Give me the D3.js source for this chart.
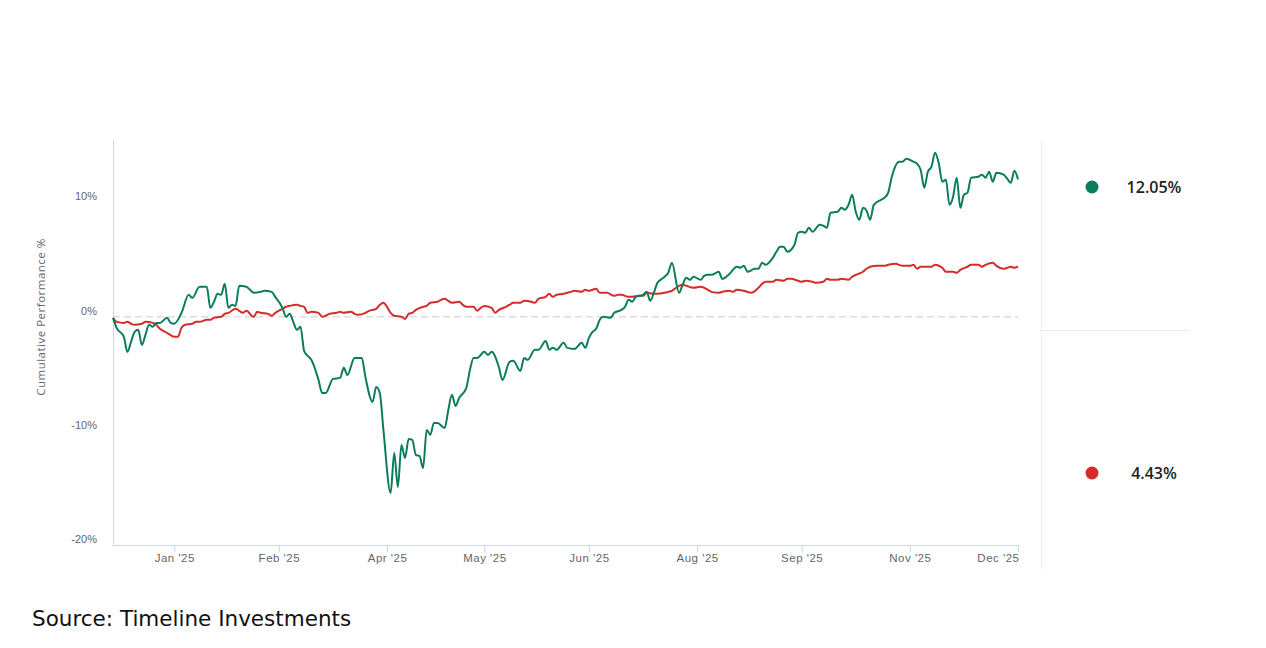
<!DOCTYPE html>
<html>
<head>
<meta charset="utf-8">
<script src="https://cdn.jsdelivr.net/npm/d3@7"></script>
<style>
    body { margin: 0; background: #fff; }
    svg { font-family: "Open Sans", "Noto Sans", sans-serif; }
</style>
</head>
<body>
<div id="chart"></div>
<script>
// [trading day, cumulative %]
var fund = [[0,-0.09],[1,-0.96],[3,-1.75],[4,-3.07],[5,-2.19],[6,-1.32],[7,-1.14],[8,-2.46],[9,-1.58],
    [10,-0.70],[11,-0.88],[12,-0.53],[13,-0.53],[15,-0.09],[16,-0.53],[17,-0.61],[19,0.35],[21,1.93],
    [22,1.67],[24,2.63],[26,2.63],[27,0.79],[28,1.32],[29,2.02],[30,1.93],[31,2.89],[32,0.79],[33,1.05],
    [34,0.96],[35,2.72],[37,2.63],[38,2.37],[39,2.11],[41,2.19],[42,2.28],[44,2.19],[45,1.75],[47,0.79],
    [48,0.00],[49,0.26],[50,-0.44],[51,-1.14],[52,-0.88],[53,-2.98],[54,-3.42],[55,-3.77],[57,-5.53],
    [58,-6.67],[59,-6.67],[61,-5.44],[63,-5.35],[64,-4.47],[65,-5.09],[67,-3.60],[69,-3.60],[70,-5.26],
    [72,-7.46],[73,-6.14],[74,-6.67],[75,-9.91],[77,-15.44],[78,-11.93],[79,-14.91],[80,-11.23],
    [81,-12.37],[82,-10.70],[83,-10.79],[84,-12.11],[85,-12.19],[86,-13.25],[87,-9.91],[88,-10.35],
    [89,-9.30],[90,-9.30],[92,-9.74],[93,-8.16],[94,-6.84],[95,-7.81],[96,-7.11],[98,-6.23],[99,-4.65],
    [100,-3.60],[101,-3.60],[103,-3.07],[104,-3.33],[105,-3.07],[107,-4.39],[108,-5.53],[110,-3.95],
    [111,-3.86],[113,-4.74],[114,-3.60],[115,-3.77],[117,-2.89],[118,-2.89],[120,-2.11],[121,-2.89],
    [122,-2.72],[123,-2.89],[125,-2.28],[126,-2.72],[128,-2.81],[130,-2.28],[131,-2.72],[132,-1.84],
    [133,-1.32],[134,-1.05],[135,-0.26],[136,0.00],[138,-0.09],[139,0.35],[141,0.61],[142,0.88],
    [143,1.49],[144,1.32],[145,1.75],[147,1.93],[148,2.19],[149,1.40],[150,2.11],[151,2.98],[153,3.51],
    [154,3.86],[155,4.74],[157,2.11],[158,2.81],[159,3.42],[160,3.25],[161,3.51],[163,3.25],[164,3.60],
    [165,3.68],[166,3.68],[168,3.95],[169,3.33],[171,3.77],[173,4.39],[174,4.30],[175,4.47],[176,3.95],
    [178,4.21],[179,4.21],[180,4.74],[181,4.56],[183,5.18],[184,5.70],[185,6.14],[186,6.14],[187,5.70],
    [189,6.32],[190,7.37],[191,7.46],[192,7.37],[193,7.81],[194,7.46],[196,8.07],[197,7.98],[198,7.81],
    [199,9.12],[201,9.21],[202,9.56],[203,9.39],[204,9.82],[205,10.70],[206,9.21],[207,8.51],[208,9.56],
    [209,9.30],[210,8.51],[211,9.82],[213,10.26],[214,10.44],[215,10.88],[216,12.28],[218,13.60],
    [219,13.60],[220,13.86],[222,13.60],[223,13.42],[224,12.89],[225,11.32],[226,12.72],[227,13.16],
    [228,14.39],[229,13.51],[230,11.84],[231,12.02],[232,9.82],[233,10.53],[234,12.19],[235,9.56],
    [236,10.70],[237,10.88],[238,12.19],[240,12.28],[241,12.46],[242,12.19],[243,12.72],[244,11.84],
    [245,12.63],[247,12.46],[248,12.11],[249,11.75],[250,12.81],[251,12.05]];

var benchmark = [[0,-0.09],[1,-0.44],[3,-0.53],[4,-0.44],[5,-0.61],[6,-0.70],[8,-0.61],[9,-0.44],
    [11,-0.53],[12,-0.70],[13,-1.05],[15,-1.40],[17,-1.75],[18,-1.75],[19,-0.96],[20,-0.70],[22,-0.61],
    [23,-0.44],[24,-0.44],[26,-0.26],[27,-0.26],[28,-0.09],[30,0.00],[31,0.26],[32,0.35],[34,0.70],
    [35,0.53],[36,0.35],[37,0.53],[39,0.00],[40,0.44],[41,0.35],[43,0.26],[44,0.09],[45,0.35],[47,0.70],
    [48,0.88],[49,0.96],[51,1.05],[52,0.96],[53,0.88],[54,0.35],[55,0.44],[57,0.35],[58,0.00],[60,0.26],
    [62,0.35],[63,0.44],[64,0.35],[66,0.44],[67,0.26],[68,0.18],[70,0.35],[71,0.53],[73,0.70],[74,1.05],
    [75,1.23],[76,0.88],[77,0.35],[78,0.09],[80,0.00],[81,-0.18],[82,0.26],[83,0.35],[84,0.61],[86,0.88],
    [87,0.96],[88,1.23],[90,1.32],[91,1.49],[92,1.58],[93,1.40],[94,1.23],[96,1.32],[97,1.05],[98,0.88],
    [100,0.88],[101,0.53],[102,0.79],[103,0.96],[105,0.79],[106,0.35],[107,0.61],[109,0.88],[110,1.05],
    [111,1.23],[113,1.23],[114,1.40],[116,1.32],[117,1.23],[118,1.58],[120,1.75],[121,2.02],[122,1.75],
    [123,1.93],[125,2.02],[126,2.11],[127,2.19],[128,2.28],[130,2.19],[131,2.37],[132,2.28],[134,2.46],
    [135,2.11],[136,2.11],[137,2.11],[139,1.84],[140,1.93],[141,1.93],[143,1.75],[144,1.75],[146,1.84],
    [147,1.84],[148,2.11],[150,2.02],[151,2.02],[153,2.11],[154,2.19],[155,2.28],[157,2.72],[158,2.81],
    [159,2.72],[161,2.54],[163,2.63],[165,2.37],[166,2.19],[168,2.11],[169,2.19],[171,2.28],[172,2.19],
    [173,2.37],[175,2.28],[177,2.11],[179,2.54],[180,2.89],[181,3.07],[183,3.07],[184,3.25],[186,3.16],
    [187,3.33],[188,3.33],[190,3.16],[191,3.07],[192,3.16],[194,3.07],[195,2.98],[197,3.07],[198,3.33],
    [199,3.25],[201,3.25],[202,3.33],[204,3.25],[205,3.51],[206,3.68],[208,3.95],[209,4.21],[210,4.39],
    [212,4.47],[214,4.47],[215,4.56],[217,4.65],[219,4.47],[221,4.47],[222,4.56],[223,4.21],[224,4.39],
    [225,4.39],[227,4.39],[228,4.56],[230,4.30],[231,3.95],[233,3.95],[234,3.86],[235,4.12],[237,4.39],
    [238,4.56],[240,4.56],[241,4.39],[242,4.56],[244,4.74],[245,4.47],[247,4.21],[248,4.30],[249,4.39],
    [250,4.30],[251,4.43]];

var xTickDays = [17, 46, 76, 103, 132, 162, 191, 221, 251];
var xTickLabels = ["Jan '25", "Feb '25", "Apr '25", "May '25", "Jun '25", "Aug '25", "Sep '25", "Nov '25", "Dec '25"];
var yTicks = [10, 0, -10, -20];

var width = 1266;
var height = 648;
var plotLeft = 113, plotRight = 1018, plotTop = 140, plotBottom = 545;
var green = "#0b7d5c", red = "#d62b2b";

var svg = d3.select("#chart").append("svg").attr("width", width).attr("height", height);

var xScale = d3.scaleLinear()
    .domain([0, 251])
    .range([plotLeft, plotRight]);

var yScale = d3.scaleLinear()
    .domain([-20, 15.5])
    .range([plotBottom, plotTop]);

// axes
var xAxis = svg.append("g")
    .attr("transform", "translate(0," + plotBottom + ")")
    .call(d3.axisBottom(xScale)
        .tickValues(xTickDays)
        .tickSize(7)
        .tickFormat(function(d, i){ return xTickLabels[i]; }));
xAxis.select(".domain").attr("stroke", "#ccd6eb").attr("d", "M" + plotLeft + ",0.5H" + (plotRight + 1));
xAxis.selectAll(".tick line").attr("stroke", "#ccd6eb");
xAxis.selectAll(".tick text")
    .attr("fill", "#666")
    .attr("font-size", 11.5)
    .attr("letter-spacing", 0.5)
    .attr("dy", "0.55em")
    .attr("y", 11);
// last label is pulled inside the plot, like the original
xAxis.selectAll(".tick text").filter(function(d, i){ return i == xTickDays.length - 1; })
    .attr("text-anchor", "end")
    .attr("x", 1);

var yAxis = svg.append("g")
    .attr("transform", "translate(" + plotLeft + ",0)")
    .call(d3.axisLeft(yScale)
        .tickValues(yTicks)
        .tickSize(0)
        .tickPadding(16)
        .tickFormat(function(d){ return d + "%"; }));
yAxis.select(".domain").attr("stroke", "#ccd6eb").attr("d", "M0.5," + plotTop + "V" + plotBottom);
yAxis.selectAll(".tick text").attr("fill", "#666").attr("font-size", 11).attr("dy", "-0.25em");

svg.append("text")
    .attr("transform", "translate(45,317) rotate(-90)")
    .attr("text-anchor", "middle")
    .attr("fill", "#666")
    .attr("font-size", 11.5)
    .attr("letter-spacing", 0.5)
    .text("Cumulative Performance %");

// zero line
svg.append("line")
    .attr("x1", plotLeft).attr("x2", plotRight)
    .attr("y1", yScale(0)).attr("y2", yScale(0))
    .attr("stroke", "#dcdde3")
    .attr("stroke-width", 1.5)
    .attr("stroke-dasharray", "7,4");

var line = d3.line()
    .x(function(d) { return xScale(d[0]); })
    .y(function(d) { return yScale(d[1]); })
    .curve(d3.curveMonotoneX);

svg.append("path")
    .datum(benchmark)
    .attr("d", line)
    .attr("fill", "none")
    .attr("stroke", red)
    .attr("stroke-width", 2);

svg.append("path")
    .datum(fund)
    .attr("d", line)
    .attr("fill", "none")
    .attr("stroke", green)
    .attr("stroke-width", 2);

// side panel
svg.append("line")
    .attr("x1", 1041.5).attr("x2", 1041.5).attr("y1", plotTop).attr("y2", 570)
    .attr("stroke", "#eef0f4");
svg.append("line")
    .attr("x1", 1041).attr("x2", 1189).attr("y1", 330.5).attr("y2", 330.5)
    .attr("stroke", "#e8ebf0");

var legend = [
    {"value": fund[fund.length - 1][1], "color": green, "y": 187},
    {"value": benchmark[benchmark.length - 1][1], "color": red, "y": 473}
];

legend.forEach(function(d){
    svg.append("circle")
        .attr("cx", 1092).attr("cy", d.y).attr("r", 6.5)
        .attr("fill", d.color);
    svg.append("text")
        .attr("x", 1154).attr("y", d.y)
        .attr("dy", "0.36em")
        .attr("text-anchor", "middle")
        .attr("font-size", 16)
        .attr("font-weight", 600)
        .attr("fill", "#222")
        .text(d.value.toFixed(2) + "%");
});

svg.append("text")
    .attr("x", 32).attr("y", 626)
    .attr("font-family", "'DejaVu Sans', sans-serif")
    .attr("font-size", 21.5)
    .attr("fill", "#111")
    .text("Source: Timeline Investments");
</script>
</body>
</html>
